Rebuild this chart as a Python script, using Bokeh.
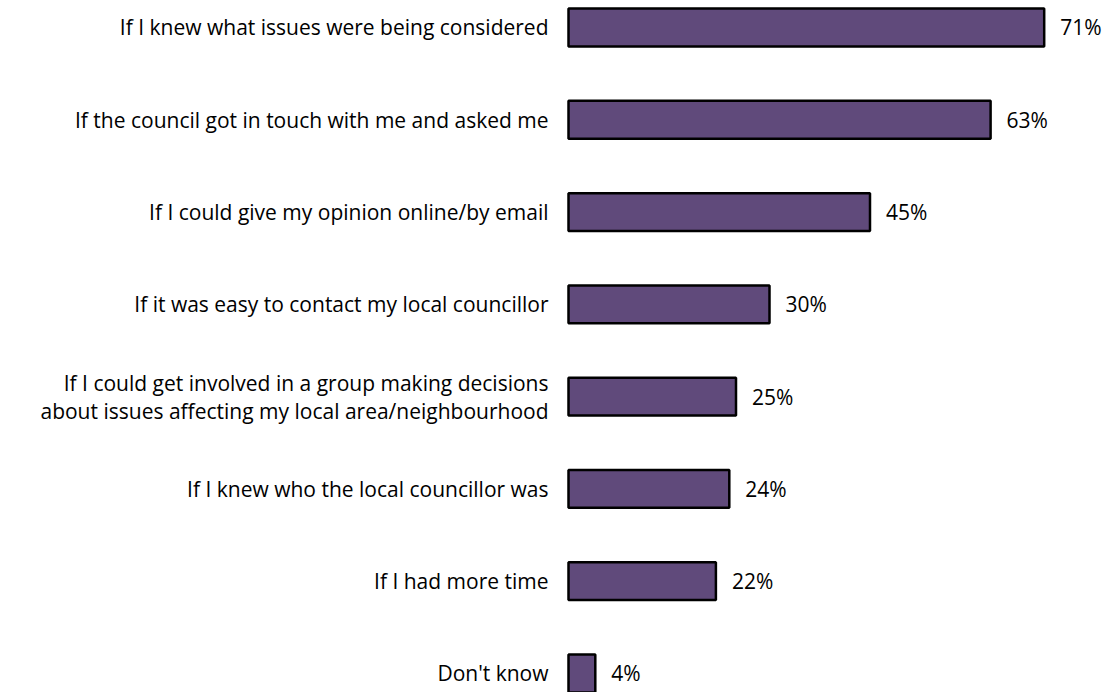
from bokeh.plotting import figure
from bokeh.models import ColumnDataSource, Range1d
from bokeh.core.properties import value
from bokeh.embed import file_html
from bokeh.resources import INLINE

categories = [
    "If I knew what issues were being considered",
    "If the council got in touch with me and asked me",
    "If I could give my opinion online/by email",
    "If it was easy to contact my local councillor",
    "If I could get involved in a group making decisions\nabout issues affecting my local area/neighbourhood",
    "If I knew who the local councillor was",
    "If I had more time",
    "Don't know",
]
values = [71, 63, 45, 30, 25, 24, 22, 4]
value_labels = ["71%", "63%", "45%", "30%", "25%", "24%", "22%", "4%"]

src = ColumnDataSource(dict(
    y=list(range(len(categories))),
    v=values,
    cat=categories,
    lab=value_labels,
    zero=[0] * len(values),
))

W, H = 1109, 692
left = 568
scale = 6.7
p = figure(width=W, height=H, output_backend="svg", toolbar_location=None,
           x_range=Range1d(-left / scale, (W - left) / scale), y_range=Range1d(7.206, -0.2925),
           min_border_left=0, min_border_right=0, min_border_top=0, min_border_bottom=0)
p.xaxis.visible = False
p.yaxis.visible = False
p.xgrid.visible = False
p.ygrid.visible = False
p.outline_line_color = None
p.background_fill_color = "white"
p.border_fill_color = "white"

p.hbar(y="y", left=0, right="v", height=0.41, source=src,
       fill_color="#604A7B", line_color="black", line_width=2.5)

p.text(x="v", y="y", text="lab", source=src, x_offset=16,
       text_align="left", text_baseline="middle", text_font=value("Open Sans"),
       text_font_size="21px", text_color="black")

p.text(x="zero", y="y", text="cat", source=src, x_offset=-20,
       text_align="right", text_baseline="middle", text_font=value("Open Sans"),
       text_font_size="21px", text_color="black", text_line_height=1.0)

open("out.html", "w").write(file_html(p, INLINE))
